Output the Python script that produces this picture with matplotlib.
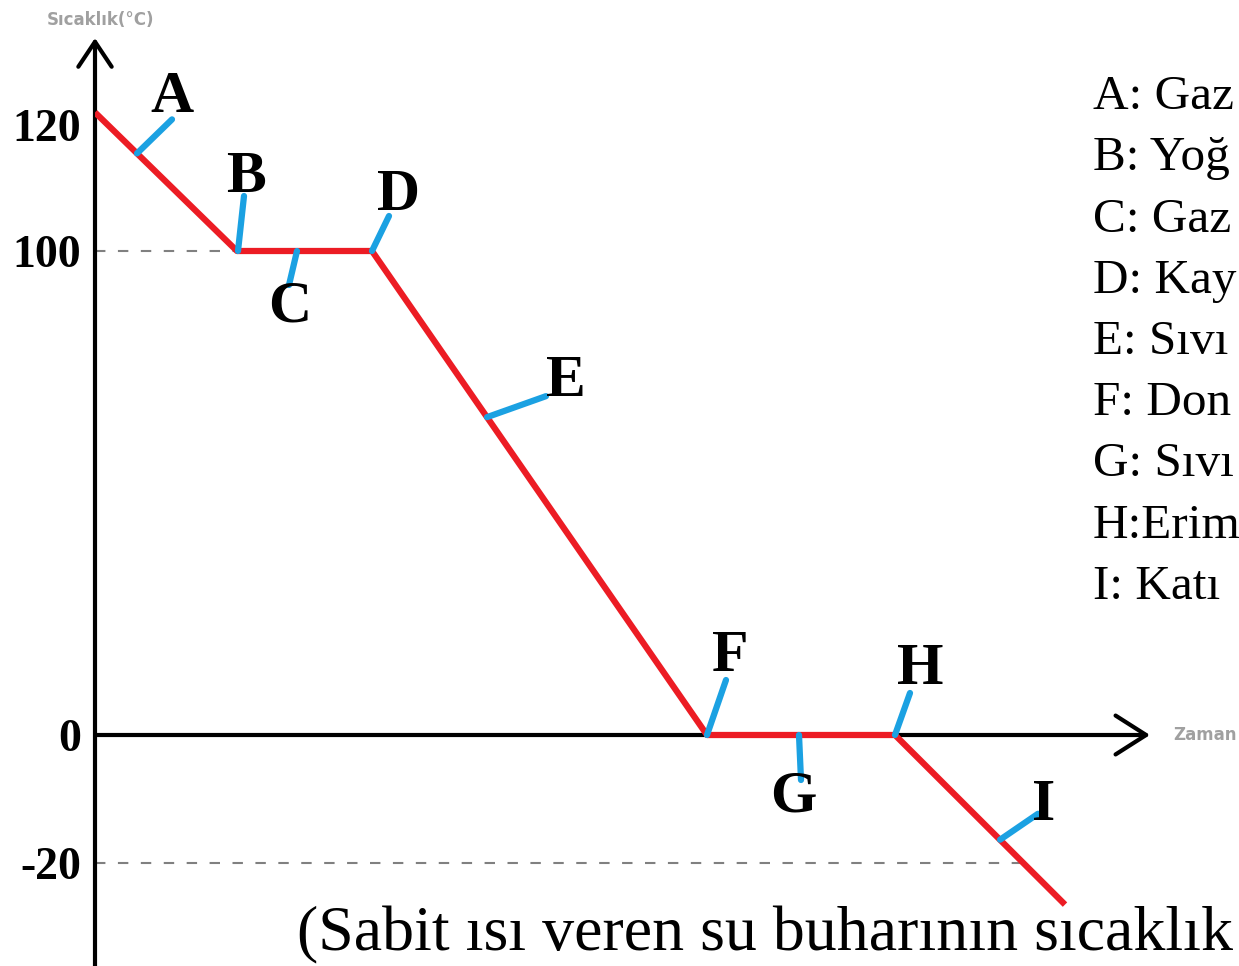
import numpy as np
import matplotlib.pyplot as plt

# cooling curve of steam (schematic)
times = [0, 1.42, 2.77, 6.12, 8.0, 9.7]
temps = [122, 100, 100, 0, 0, -26.5]

y_ticks = [120, 100, 0, -20]
y_ticklabels = ['120', '100', '0', '-20']

# segment labels: letter, time of the point on the curve
point_letters = ['A', 'B', 'C', 'D', 'E', 'F', 'G', 'H', 'I']
point_times = [0.42, 1.43, 2.02, 2.77, 3.92, 6.12, 7.04, 8.0, 9.05]

# only the part that is visible in the reference (cut at the right edge)
legend_lines = ['A: Gaz', 'B: Yoğ', 'C: Gaz', 'D: Kay', 'E: Sıvı',
                'F: Don', 'G: Sıvı', 'H:Erim', 'I: Katı']
caption = '(Sabit ısı veren su buharının sıcaklık'

RED = '#ec1c24'
BLUE = '#1ba1e2'
SERIF = 'Liberation Serif'

# the temperature axis is not to scale in the drawing: piecewise mapping
knot_temp = [-60, -20, 0, 100, 120, 160]
knot_pos = [-153, 103, 231, 715, 841, 1093]


def fwd(v):
    return np.interp(v, knot_temp, knot_pos)


def inv(p):
    return np.interp(p, knot_pos, knot_temp)


fig = plt.figure(figsize=(12.39, 9.66), dpi=100)
ax = fig.add_axes([95 / 1239, 0, 1 - 95 / 1239, 1])
ax.set_yscale('function', functions=(fwd, inv))
ax.set_xlim(0, 11.44)
ax.set_ylim(inv(0), inv(966))
for s in ax.spines.values():
    s.set_visible(False)
ax.set_xticks([])
ax.set_yticks(y_ticks, y_ticklabels)
ax.tick_params(axis='y', length=0, pad=10)
for lab in ax.get_yticklabels():
    lab.set_fontfamily(SERIF)
    lab.set_fontweight('bold')
    lab.set_fontsize(33)

# axes with arrow heads
ax.annotate('', xy=(0, inv(928)), xytext=(0, inv(-5)),
            arrowprops=dict(arrowstyle='->,head_length=0.9,head_width=0.6',
                            lw=3, color='black', mutation_scale=20,
                            shrinkA=0, shrinkB=0), annotation_clip=False)
ax.annotate('', xy=(10.55, 0), xytext=(0, 0),
            arrowprops=dict(arrowstyle='->,head_length=1.1,head_width=0.7',
                            lw=3, color='black', mutation_scale=20,
                            shrinkA=0, shrinkB=0), annotation_clip=False)

# dashed guide lines
t_cross = np.interp(-20, temps[::-1], times[::-1])
ax.plot([0, times[1]], [100, 100], ls=(0, (5, 6)), color='#808080', lw=1.5, zorder=1)
ax.plot([0, t_cross], [-20, -20], ls=(0, (5, 6)), color='#808080', lw=1.5, zorder=1)

ax.plot(times, temps, color=RED, lw=4.5, solid_capstyle='butt', zorder=3)

# blue pointers and letters (offsets in pixels)
pointer_off = [(35, 34), (6, 55), (-8, -34), (17, 35), (59, 21),
               (19, 55), (2, -45), (15, 42), (38, 26)]
letter_off = [(35, 55), (8, 73), (-7, -57), (26, 55), (79, 35),
              (23, 78), (-6, -63), (25, 65), (44, 34)]
point_temps = np.interp(point_times, times, temps)
for let, t, v, po, lo in zip(point_letters, point_times, point_temps,
                             pointer_off, letter_off):
    ax.annotate('', xy=(t, v), xytext=po, textcoords='offset pixels',
                arrowprops=dict(arrowstyle='-', color=BLUE, lw=4.5,
                                shrinkA=0, shrinkB=0), zorder=4)
    ax.annotate(let, xy=(t, v), xytext=lo, textcoords='offset pixels',
                ha='center', va='center', fontfamily=SERIF,
                fontweight='bold', fontsize=43, zorder=5)

# axis titles (small grey)
fig.text(100 / 1239, 1 - 20 / 966, 'Sıcaklık(°C)', ha='center', va='center',
         fontsize=12, color='#a0a0a0', fontweight='bold')
fig.text(1173 / 1239, 1 - 735 / 966, 'Zaman', ha='left', va='center',
         fontsize=12, color='#a0a0a0', fontweight='bold')

# legend text at right
for i, line in enumerate(legend_lines):
    fig.text(1093 / 1239, 1 - (97 + 61.25 * i) / 966, line, ha='left',
             va='center', fontfamily=SERIF, fontsize=35.5)

fig.text(297 / 1239, 1 - 950 / 966, caption, ha='left', va='baseline',
         fontfamily=SERIF, fontsize=46)

fig.savefig('out.png', dpi=100)
